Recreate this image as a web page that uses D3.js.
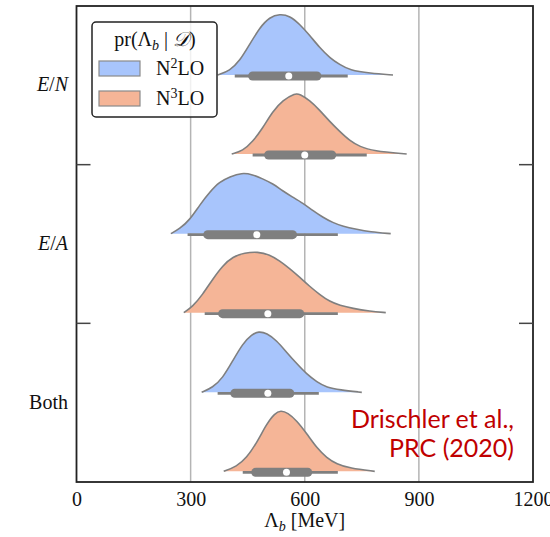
<!DOCTYPE html>
<html><head><meta charset="utf-8">
<script src="https://cdn.jsdelivr.net/npm/d3@7"></script>
<style>html,body{margin:0;padding:0;background:#fff;}</style>
</head><body>
<svg id="chart" width="550" height="537"></svg>
<script>
// ---- data ----
const categories = ["E/N", "E/A", "Both"];
const orders = ["N2LO", "N3LO"];
const orderLabels = {N2LO: "2", N3LO: "3"};
const xTicks = [0, 300, 600, 900, 1200];
const gridValues = [300, 600, 900];

// relative posterior density (peak = 1) at Λ_b [MeV]
const densEN_N2LO = [[371,0],[403,.07],[429,.23],[455,.50],[482,.78],[508,.95],[534,1],[561,.97],[587,.83],[613,.65],[639,.45],[666,.28],[692,.17],[718,.08],[771,.03],[832,0]];
const densEN_N3LO = [[408,0],[437,.05],[463,.20],[489,.42],[516,.70],[542,.88],[575,1],[587,.98],[613,.88],[639,.72],[666,.53],[692,.37],[718,.22],[745,.12],[779,.05],[868,0]];
const densEA_N2LO = [[248,0],[271,.08],[297,.22],[324,.47],[350,.68],[376,.85],[403,.93],[434,1],[463,.97],[489,.90],[516,.82],[542,.70],[568,.60],[595,.50],[621,.38],[647,.27],[674,.18],[700,.12],[737,.07],[771,.03],[826,0]];
const densEA_N3LO = [[282,0],[305,.10],[332,.30],[358,.55],[384,.77],[411,.92],[442,.98],[476,1],[508,.95],[534,.85],[561,.72],[587,.58],[613,.43],[639,.30],[666,.18],[692,.12],[726,.07],[771,.025],[813,0]];
const densBoth_N2LO = [[329,0],[358,.08],[384,.23],[411,.52],[437,.80],[461,.95],[479,1],[500,.97],[526,.85],[553,.65],[579,.47],[605,.30],[632,.17],[658,.08],[692,.04],[750,0]];
const densBoth_N3LO = [[387,0],[421,.08],[447,.22],[474,.47],[500,.78],[521,.95],[537,1],[555,.96],[579,.83],[605,.62],[632,.38],[658,.22],[684,.12],[718,.05],[784,0]];

// box stats: [whisker low, q1, median, q3, whisker high]
const boxEN_N2LO = [416, 463, 558, 632, 713];
const boxEN_N3LO = [463, 505, 600, 671, 763];
const boxEA_N2LO = [292, 345, 474, 568, 687];
const boxEA_N3LO = [337, 384, 503, 587, 687];
const boxBoth_N2LO = [371, 416, 503, 561, 637];
const boxBoth_N3LO = [437, 471, 552, 608, 687];

const series = [
  {cat:"E/N", order:"N2LO", dens:densEN_N2LO, box:boxEN_N2LO},
  {cat:"E/N", order:"N3LO", dens:densEN_N3LO, box:boxEN_N3LO},
  {cat:"E/A", order:"N2LO", dens:densEA_N2LO, box:boxEA_N2LO},
  {cat:"E/A", order:"N3LO", dens:densEA_N3LO, box:boxEA_N3LO},
  {cat:"Both", order:"N2LO", dens:densBoth_N2LO, box:boxBoth_N2LO},
  {cat:"Both", order:"N3LO", dens:densBoth_N3LO, box:boxBoth_N3LO}
];

// ---- layout ----
const svg = d3.select("#chart");
const L = 76.5, R = 533, T = 6, B = 482;
const fill = {N2LO: "#a8c5fc", N3LO: "#f5b597"};
const serif = "'Liberation Serif', 'DejaVu Serif', serif";

const x = d3.scaleLinear().domain([0, 1200]).range([L, R]);
const yBand = d3.scaleBand().domain(categories).range([T, B]).padding(0);
const yHue = d3.scalePoint().domain(orders).range([69, 148]);
const hScale = d3.scaleLinear().domain([0, 1]).range([0, 61]);

// grid
svg.append("g").selectAll("line").data(gridValues).join("line")
  .attr("x1", d => x(d)).attr("x2", d => x(d))
  .attr("y1", T).attr("y2", B)
  .attr("stroke", "#b4b4b4").attr("stroke-width", 1.5);

// violins
const g = svg.append("g");
series.forEach(s => {
  const base = yBand(s.cat) + yHue(s.order);
  const area = d3.area().x(d => x(d[0])).y0(base).y1(d => base - hScale(d[1])).curve(d3.curveBasis);
  const line = d3.line().x(d => x(d[0])).y(d => base - hScale(d[1])).curve(d3.curveBasis);
  g.append("path").attr("d", area(s.dens)).attr("fill", fill[s.order]).attr("stroke", "none");
  g.append("path").attr("d", line(s.dens)).attr("fill", "none").attr("stroke", "#7f7f7f").attr("stroke-width", 1.6);
  const b = s.box;
  g.append("line").attr("x1", x(b[0])).attr("x2", x(b[4])).attr("y1", base + 1).attr("y2", base + 1)
    .attr("stroke", "#7f7f7f").attr("stroke-width", 2.8);
  g.append("line").attr("x1", x(b[1])).attr("x2", x(b[3])).attr("y1", base + 1).attr("y2", base + 1)
    .attr("stroke", "#7f7f7f").attr("stroke-width", 9).attr("stroke-linecap", "round");
  g.append("circle").attr("cx", x(b[2])).attr("cy", base + 1).attr("r", 3.5).attr("fill", "#fff");
});

// frame
svg.append("rect").attr("x", L).attr("y", T).attr("width", R - L).attr("height", B - T)
  .attr("fill", "none").attr("stroke", "#222").attr("stroke-width", 1.8);

// category ticks (inward on both sides)
const sepVals = categories.slice(1).map(c => yBand(c));
svg.append("g").selectAll("line").data(sepVals).join("line")
  .attr("x1", L).attr("x2", L + 14).attr("y1", d => d).attr("y2", d => d)
  .attr("stroke", "#444").attr("stroke-width", 1.5);
svg.append("g").selectAll("line").data(sepVals).join("line")
  .attr("x1", R - 14).attr("x2", R).attr("y1", d => d).attr("y2", d => d)
  .attr("stroke", "#444").attr("stroke-width", 1.5);

// x tick labels via axis
const xAxis = d3.axisBottom(x).tickValues(xTicks).tickSize(0).tickPadding(10).tickFormat(d3.format("d"));
const ax = svg.append("g").attr("transform", `translate(0,${B})`).call(xAxis);
ax.select(".domain").remove();
ax.selectAll("text").attr("font-family", serif).attr("font-size", 20).attr("fill", "#111");

// x label
const xl = svg.append("text").attr("x", x(600)).attr("y", 527).attr("text-anchor", "middle")
  .attr("font-family", serif).attr("font-size", 20).attr("fill", "#111");
xl.append("tspan").text("Λ");
xl.append("tspan").attr("font-style", "italic").attr("font-size", 14).attr("dy", 4).text("b");
xl.append("tspan").attr("dy", -4).text(" [MeV]");

// y labels
categories.forEach(c => {
  const t = svg.append("text").attr("x", 68).attr("y", yBand(c) + yBand.bandwidth() / 2 + 6)
    .attr("text-anchor", "end").attr("font-family", serif).attr("font-size", 20).attr("fill", "#111");
  if (c === "Both") { t.text("Both"); }
  else {
    const parts = c.split("/");
    t.append("tspan").attr("font-style", "italic").text(parts[0]);
    t.append("tspan").text("/");
    t.append("tspan").attr("font-style", "italic").text(parts[1]);
  }
});

// legend
const lg = svg.append("g");
lg.append("rect").attr("x", 92).attr("y", 22).attr("width", 125).attr("height", 95).attr("rx", 4)
  .attr("fill", "#fff").attr("fill-opacity", 0.8).attr("stroke", "#222").attr("stroke-width", 1.5);
const lt = lg.append("text").attr("x", 155).attr("y", 46).attr("text-anchor", "middle")
  .attr("font-family", serif).attr("font-size", 20).attr("fill", "#111");
lt.append("tspan").text("pr(Λ");
lt.append("tspan").attr("font-style", "italic").attr("font-size", 14).attr("dy", 4).text("b");
lt.append("tspan").attr("dy", -4).text(" | ");
lt.append("tspan").attr("font-style", "italic").text("𝒟");
lt.append("tspan").text(")");
orders.forEach((o, i) => {
  const yy = 61 + i * 30;
  lg.append("rect").attr("x", 99).attr("y", yy).attr("width", 41).attr("height", 15)
    .attr("fill", fill[o]).attr("stroke", "#8a8a8a").attr("stroke-width", 1.2);
  const tt = lg.append("text").attr("x", 156).attr("y", yy + 14).attr("font-family", serif)
    .attr("font-size", 20).attr("fill", "#111");
  tt.append("tspan").text("N");
  tt.append("tspan").attr("font-size", 14).attr("dy", -7).text(orderLabels[o]);
  tt.append("tspan").attr("dy", 7).text("LO");
});

// annotation
const ann = svg.append("text").attr("text-anchor", "end").attr("font-family", "Lato, 'Open Sans', sans-serif")
  .attr("font-size", 25).attr("fill", "#c00000");
ann.append("tspan").attr("x", 514).attr("y", 428).text("Drischler et al.,");
ann.append("tspan").attr("x", 514).attr("y", 457).text("PRC (2020)");
</script>
</body></html>
